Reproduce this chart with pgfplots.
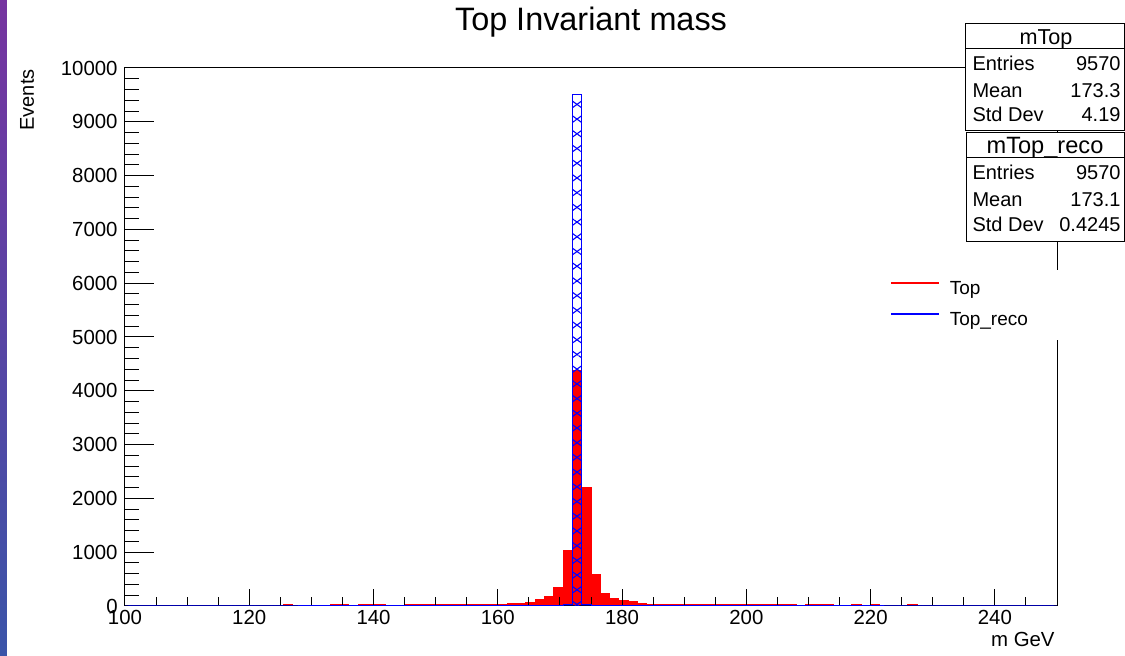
\documentclass[border=0pt]{standalone}
\usepackage{fontspec}
\setmainfont{Liberation Sans}
\usepackage{pgfplots}
\pgfplotsset{compat=1.18}
\usetikzlibrary{patterns.meta}

\definecolor{winpurple}{RGB}{118,52,160}
\definecolor{winblue}{RGB}{58,84,168}

\pgfplotsset{histframe/.style={
  scale only axis, width=466pt, height=269pt,
  xmin=100, xmax=250, ymin=0, ymax=10000, clip=false}}

\begin{document}
\begin{tikzpicture}
% frame, ticks and the Top histogram
\begin{axis}[
  histframe, axis on top,
  axis line style={black, line width=0.5pt},
  tick align=inside, tick pos=left,
  xtick={100,120,...,240},
  minor xtick={100,105,...,250},
  ytick={0,1000,...,10000},
  minor ytick={0,200,...,10000},
  tick style={black, line width=0.5pt},
  xtick style={/pgfplots/major tick length=8.3pt, /pgfplots/minor tick length=4.5pt},
  ytick style={/pgfplots/major tick length=14.5pt, /pgfplots/minor tick length=7pt},
  scaled y ticks=false,
  /pgf/number format/assume math mode=true,
  /pgf/number format/1000 sep={},
  ticklabel style={font=\fontsize{10.2}{12}\selectfont, inner sep=0pt},
  xticklabel style={yshift=-2pt},
  yticklabel style={xshift=-3.5pt},
  title={Top Invariant mass},
  title style={font=\fontsize{16.2}{19}\selectfont, at={(0.5,1)}, anchor=base, yshift=12.5pt},
  xlabel={m GeV},
  xlabel style={font=\fontsize{10.2}{12}\selectfont, inner sep=0pt, at={(1,0)}, anchor=base east, yshift=-20.5pt, xshift=-1pt},
  ylabel={Events},
  ylabel style={font=\fontsize{10}{12}\selectfont, inner sep=0pt, at={(0,1)}, anchor=base east, yshift=45.5pt, xshift=-0.5pt},
]
% Top (generator level), bin width 1.5 GeV
\addplot[const plot, fill=red, draw=red, line width=0.5pt] coordinates {
  (100,0) (125.5,30) (127,0) (133,30) (134.5,30) (136,0)
  (137.5,30) (139,30) (140.5,30) (142,0)
  (145,30) (146.5,30) (148,30) (149.5,30) (151,30) (152.5,30) (154,30) (155.5,30) (157,30) (158.5,30)
  (160,32) (161.5,45) (163,50) (164.5,60) (166,115) (167.5,170) (169,340)
  (170.5,1030) (172,4370) (173.5,2210) (175,585) (176.5,230) (178,145)
  (179.5,95) (181,75) (182.5,48) (184,32) (185.5,30) (187,30) (188.5,30)
  (190,30) (191.5,30) (193,30) (194.5,30) (196,30) (197.5,30) (199,30)
  (200.5,30) (202,30) (203.5,30) (205,30) (206.5,30) (208,0)
  (209.5,30) (211,30) (212.5,30) (214,0) (217,30) (218.5,0)
  (220,30) (221.5,0) (226,30) (227.5,0) (250,0)
} \closedcycle;
\end{axis}

% Top_reco, hatched, drawn over the frame
\begin{axis}[
  histframe, hide axis,
  legend style={at={(0.8079,0.6245)}, anchor=north west,
    draw=none, fill=white, inner xsep=6pt, inner ysep=5pt,
    /tikz/row sep=6pt, /tikz/column sep=0pt,
    nodes={inner xsep=5pt, inner ysep=0pt, text height=7pt, text depth=2.5pt,
      text width=44pt, font=\fontsize{9.5}{11}\selectfont}},
  legend cell align=left,
]
\addplot[const plot, draw=none, forget plot,
  pattern={Lines[angle=36,distance=5.95pt,line width=0.55pt]}, pattern color=blue] coordinates {
  (100,0) (154,2) (155.5,0) (163,3) (164.5,3) (166,0) (169,5)
  (170.5,30) (172,9500) (173.5,35) (175,0) (194.5,2) (196,0) (250,0)
} \closedcycle;
\addplot[const plot, draw=blue, line width=0.5pt, forget plot,
  pattern={Lines[angle=-36,distance=5.95pt,line width=0.55pt]}, pattern color=blue] coordinates {
  (100,0) (154,2) (155.5,0) (163,3) (164.5,3) (166,0) (169,5)
  (170.5,30) (172,9500) (173.5,35) (175,0) (194.5,2) (196,0) (250,0)
} \closedcycle;

\addlegendimage{legend image code/.code={\draw[draw=red, line width=0.7pt] (0pt,3.5pt) -- (24pt,3.5pt);}}
\addlegendentry{Top}
\addlegendimage{legend image code/.code={\draw[draw=blue, line width=0.6pt] (0pt,3.5pt) -- (24pt,3.5pt);}}
\addlegendentry{Top\_reco}
\end{axis}

% stat boxes, in pixel coordinates of the reference
\begin{scope}[x=0.5pt, y=-0.5pt, shift={(-62.5pt,303pt)}, line width=0.5pt]
  \shade[top color=winpurple, bottom color=winblue] (0,0) rectangle (7,656);
  \draw[fill=white] (965,24) rectangle (1124,131);
  \draw (965,49) -- (1124,49);
  \node[anchor=base, inner sep=0pt, font=\fontsize{10.8}{12}\selectfont] at (1046,45) {mTop};
  \begin{scope}[every node/.style={inner sep=0pt, font=\fontsize{10}{12}\selectfont}]
    \node[anchor=base west] at (972,70.5) {Entries};
    \node[anchor=base east] at (1121,70.5) {9570};
    \node[anchor=base west] at (972,97.5) {Mean};
    \node[anchor=base east] at (1121,97.5) {173.3};
    \node[anchor=base west] at (972,122) {Std Dev};
    \node[anchor=base east] at (1121,122) {4.19};
  \end{scope}
  \draw[fill=white] (966,133) rectangle (1124,242);
  \draw (966,158) -- (1124,158);
  \node[anchor=base, inner sep=0pt, font=\fontsize{11.8}{14}\selectfont] at (1045,153.5) {mTop\_reco};
  \begin{scope}[every node/.style={inner sep=0pt, font=\fontsize{10}{12}\selectfont}]
    \node[anchor=base west] at (972,180) {Entries};
    \node[anchor=base east] at (1121,180) {9570};
    \node[anchor=base west] at (972,207) {Mean};
    \node[anchor=base east] at (1121,207) {173.1};
    \node[anchor=base west] at (972,232) {Std Dev};
    \node[anchor=base east] at (1121,232) {0.4245};
  \end{scope}
  \pgfresetboundingbox
  \useasboundingbox (0,0) rectangle (1125,656);
\end{scope}
\end{tikzpicture}
\end{document}
